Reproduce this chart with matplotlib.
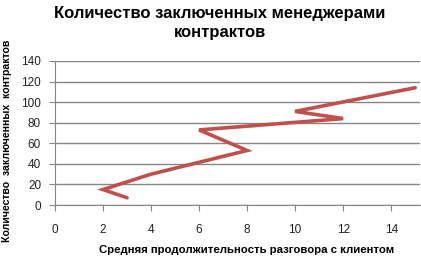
import matplotlib.pyplot as plt

plt.rcParams['font.family'] = ['Liberation Sans', 'DejaVu Sans']

duration = [3, 2, 4, 8, 6, 12, 10, 15]
contracts = [7, 15, 30, 53, 73, 84, 91, 114]
x_ticks = [0, 2, 4, 6, 8, 10, 12, 14]
y_ticks = [0, 20, 40, 60, 80, 100, 120, 140]

fig = plt.figure(figsize=(4.21, 2.6), dpi=100)
ax = fig.add_axes([55/421, 55/260, 365/421, 144/260])

ax.plot(duration, contracts, color='#C0504D', lw=2.6, solid_capstyle='round',
        solid_joinstyle='miter', zorder=3)

ax.set_xlim(0, 15.2)
ax.set_ylim(0, 140)
ax.set_xticks(x_ticks)
ax.set_yticks(y_ticks)
ax.yaxis.grid(True, color='#868686', lw=1)
ax.set_axisbelow(True)
for s in ['top', 'right']:
    ax.spines[s].set_visible(False)
for s in ['left', 'bottom']:
    ax.spines[s].set_color('#868686')
ax.tick_params(axis='both', direction='out', color='#868686', length=4,
               labelsize=8.5, labelcolor='#222222')
ax.tick_params(axis='x', pad=10)
ax.tick_params(axis='y', pad=6)

ax.set_xlabel('Средняя продолжительность разговора с клиентом', fontsize=8.2,
              fontweight='bold')
ax.set_ylabel('Количество  заключенных  контрактов', fontsize=7.6,
              fontweight='bold')
ax.xaxis.set_label_coords(192/365, -40/144)
ax.yaxis.set_label_coords(-43/365, 0.444)

fig.text(220/421, 1 - 23/260, 'Количество заключенных менеджерами\nконтрактов',
         ha='center', va='center', fontsize=12, fontweight='bold', linespacing=1.3)

fig.savefig('out.png', dpi=100)
